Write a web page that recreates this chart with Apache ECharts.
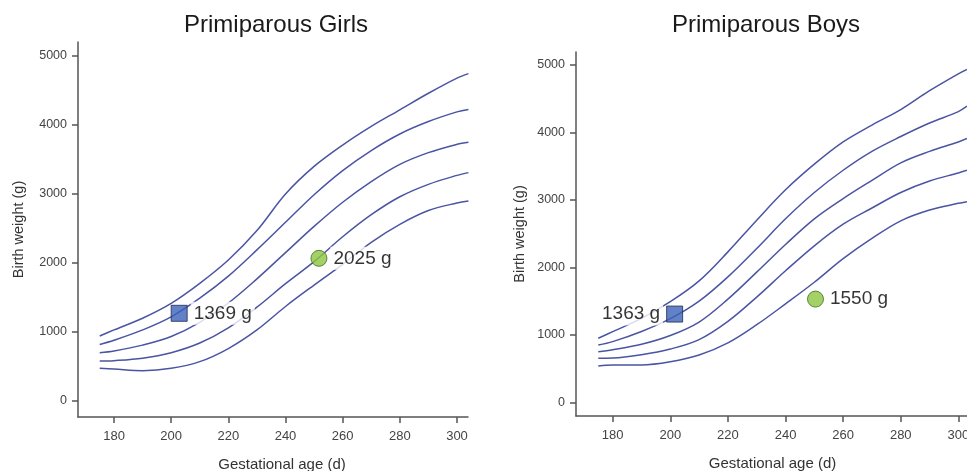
<!DOCTYPE html>
<html>
<head>
<meta charset="utf-8">
<script src="https://cdn.jsdelivr.net/npm/echarts@6/dist/echarts.min.js"></script>
<style>
html,body{margin:0;padding:0;background:#fff;}
#chart{width:967px;height:471px;}
</style>
</head>
<body>
<div id="chart"></div>
<script>
// ---- data ----
const titles = ['Primiparous Girls', 'Primiparous Boys'];
const xName = 'Gestational age (d)';
const yName = 'Birth weight (g)';
const xTicks = [180, 200, 220, 240, 260, 280, 300];
const yTicks = [0, 1000, 2000, 3000, 4000, 5000];

const girlsDays = [175, 180, 190, 200, 210, 220, 230, 240, 250, 260, 270, 280, 290, 300, 304];
const girlsP1 = [942, 1030, 1200, 1415, 1705, 2043, 2470, 3000, 3400, 3710, 3980, 4220, 4460, 4680, 4745];
const girlsP2 = [820, 880, 1030, 1220, 1490, 1810, 2190, 2590, 2990, 3340, 3630, 3870, 4050, 4190, 4225];
const girlsP3 = [700, 725, 810, 935, 1140, 1420, 1770, 2150, 2530, 2880, 3180, 3430, 3600, 3720, 3750];
const girlsP4 = [580, 585, 620, 700, 840, 1060, 1360, 1700, 2020, 2380, 2700, 2960, 3140, 3270, 3310];
const girlsP5 = [473, 462, 440, 473, 570, 760, 1030, 1370, 1680, 1980, 2300, 2560, 2760, 2870, 2900];

const boysDays = [175, 180, 190, 200, 210, 220, 230, 240, 250, 260, 270, 280, 290, 300, 303];
const boysP1 = [949, 1047, 1245, 1492, 1800, 2230, 2700, 3150, 3530, 3860, 4110, 4340, 4620, 4870, 4935];
const boysP2 = [850, 900, 1050, 1240, 1500, 1860, 2280, 2720, 3110, 3440, 3720, 3940, 4140, 4310, 4390];
const boysP3 = [751, 780, 860, 990, 1190, 1530, 1930, 2340, 2720, 3020, 3290, 3550, 3720, 3860, 3910];
const boysP4 = [652, 655, 705, 790, 930, 1200, 1560, 1950, 2320, 2640, 2880, 3110, 3280, 3400, 3440];
const boysP5 = [539, 553, 553, 600, 700, 880, 1150, 1460, 1780, 2130, 2430, 2690, 2850, 2950, 2975];

const girlsSquare = [202.8, 1271];
const girlsSquareLabel = '1369 g';
const girlsCircle = [251.7, 2068];
const girlsCircleLabel = '2025 g';
const boysSquare = [201.5, 1308];
const boysSquareLabel = '1363 g';
const boysCircle = [250.4, 1530];
const boysCircleLabel = '1550 g';

// ---- chart ----
const FONT = "'Liberation Sans', Arial, sans-serif";
const LINE_COLOR = '#4a54a3';
const AXIS_COLOR = '#555';

function zip(xs, ys) { return xs.map((x, i) => [x, ys[i]]); }

function curve(idx, xs, ys) {
  return {
    type: 'line', xAxisIndex: idx, yAxisIndex: idx,
    data: zip(xs, ys), symbol: 'none', smooth: 0.35, clip: false,
    lineStyle: { color: LINE_COLOR, width: 1.5 }, z: 2, silent: true
  };
}

function marker(idx, pt, text, shape, color, border, pos) {
  return {
    type: 'scatter', xAxisIndex: idx, yAxisIndex: idx,
    data: [pt], symbol: shape, symbolSize: 16, z: 5,
    itemStyle: { color: color, borderColor: border, borderWidth: 1 },
    label: {
      show: true, position: pos, distance: 3, formatter: text,
      fontFamily: FONT, fontSize: 19, color: '#000',
      backgroundColor: '#fff', padding: [2, 3]
    }
  };
}

function xAxis(idx, min, max, shift) {
  return {
    type: 'value', gridIndex: idx, min: min, max: max,
    name: xName, nameLocation: 'middle', nameGap: 40,
    nameTextStyle: { fontFamily: FONT, fontSize: 15, color: '#333', padding: [0, 0, 0, shift] },
    axisLine: { show: true, onZero: false, lineStyle: { color: AXIS_COLOR, width: 1.5 } },
    axisTick: { show: true, length: 6, customValues: xTicks, lineStyle: { color: AXIS_COLOR, width: 1.5 } },
    axisLabel: { customValues: xTicks, margin: 13, fontFamily: FONT, fontSize: 13, color: '#444' },
    splitLine: { show: false }
  };
}

function yAxis(idx, min, max, gap) {
  return {
    type: 'value', gridIndex: idx, min: min, max: max,
    name: yName, nameLocation: 'middle', nameGap: gap,
    nameTextStyle: { fontFamily: FONT, fontSize: 14.5, color: '#333' },
    axisLine: { show: true, onZero: false, lineStyle: { color: AXIS_COLOR, width: 1.5 } },
    axisTick: { show: true, length: 6, customValues: yTicks, lineStyle: { color: AXIS_COLOR, width: 1.5 } },
    axisLabel: { customValues: yTicks, margin: 11, fontFamily: FONT, fontSize: 12.5, color: '#444',
                 formatter: v => String(v) },
    splitLine: { show: false }
  };
}

const chart = echarts.init(document.getElementById('chart'), null, { renderer: 'canvas' });
chart.setOption({
  animation: false,
  backgroundColor: '#fff',
  graphic: [
    { type: 'text', x: 276, y: 25, style: { text: titles[0], fontFamily: FONT, fontSize: 24, fill: '#1a1a1a', align: 'center', verticalAlign: 'middle', textAlign: 'center', textVerticalAlign: 'middle' } },
    { type: 'text', x: 766, y: 25, style: { text: titles[1], fontFamily: FONT, fontSize: 24, fill: '#1a1a1a', align: 'center', verticalAlign: 'middle', textAlign: 'center', textVerticalAlign: 'middle' } }
  ],
  grid: [
    { left: 78, top: 42, width: 390, height: 375, outerBoundsMode: 'none', containLabel: false },
    { left: 576, top: 52, width: 391, height: 364, outerBoundsMode: 'none', containLabel: false }
  ],
  xAxis: [xAxis(0, 167.4, 303.85, 18), xAxis(1, 167.26, 303.0, 2)],
  yAxis: [yAxis(0, -232, 5203, 52), yAxis(1, -203, 5193, 49)],
  series: [
    curve(0, girlsDays, girlsP1), curve(0, girlsDays, girlsP2), curve(0, girlsDays, girlsP3),
    curve(0, girlsDays, girlsP4), curve(0, girlsDays, girlsP5),
    curve(1, boysDays, boysP1), curve(1, boysDays, boysP2), curve(1, boysDays, boysP3),
    curve(1, boysDays, boysP4), curve(1, boysDays, boysP5),
    marker(0, girlsSquare, girlsSquareLabel, 'rect', '#3b62b8', '#1e2a50', 'right'),
    marker(0, girlsCircle, girlsCircleLabel, 'circle', '#8cc63f', '#3f6b1c', 'right'),
    marker(1, boysSquare, boysSquareLabel, 'rect', '#3b62b8', '#1e2a50', 'left'),
    marker(1, boysCircle, boysCircleLabel, 'circle', '#8cc63f', '#3f6b1c', 'right')
  ]
});
</script>
</body>
</html>
